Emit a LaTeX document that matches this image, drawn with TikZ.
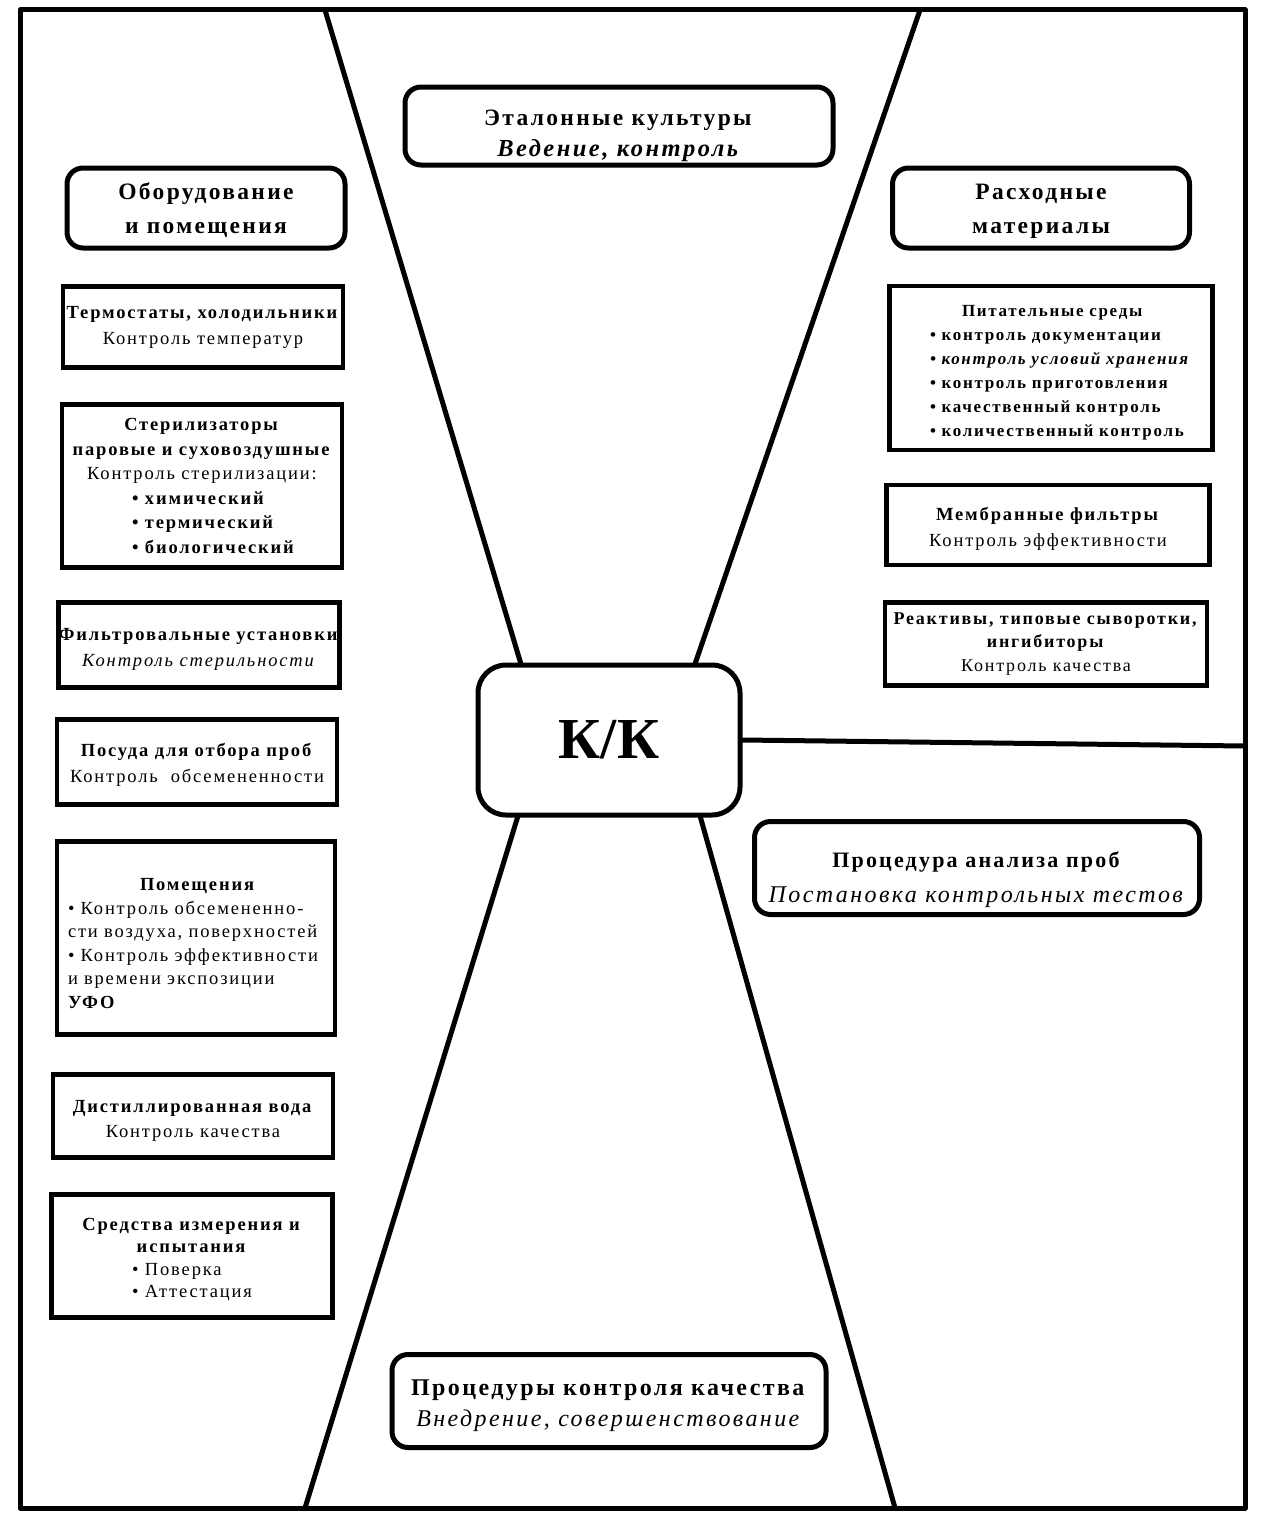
\documentclass[tikz,border=0pt]{standalone}
\usepackage{fontspec}
\setmainfont{Liberation Serif}[LetterSpace=10]
\usetikzlibrary{calc}
\tikzset{
	frameline/.style={line width=5pt, line join=round},
	spoke/.style={line width=5pt, line cap=round},
	headbox/.style={draw, line width=5pt, rounded corners=16pt, align=center, inner sep=0pt, fill=white,
		font=\fontsize{23.5}{31}\selectfont},
	itembox/.style={draw, line width=4.5pt, align=center, inner sep=0pt, fill=white,
		font=\fontsize{18.5}{24.5}\selectfont},
}
\newcommand{\bul}{\textbullet\ }
\newcommand{\lefty}[2]{\makebox[#1][l]{#2}}
\begin{document}
\begin{tikzpicture}[x=1pt, y=-1pt]
	\useasboundingbox (0,0) rectangle (1263,1520);

	% centre
	\node[headbox, minimum width=262pt, minimum height=150pt, rounded corners=28pt,
		font=\fontsize{58}{60}\selectfont\bfseries\addfontfeature{LetterSpace=0}] (kk) at (609,740) {К/К};

	% frame points
	\coordinate (ftl) at (325,10);
	\coordinate (ftr) at (920,10);
	\coordinate (fbl) at (305,1508);
	\coordinate (fbr) at (895,1508);
	\coordinate (fr) at (1245,746);

	\draw[spoke] (ftl) -- ([xshift=45pt]kk.north west);
	\draw[spoke] (ftr) -- ([xshift=-47pt]kk.north east);
	\draw[spoke] (fbl) -- ([xshift=42pt]kk.south west);
	\draw[spoke] (fbr) -- ([xshift=-42pt]kk.south east);
	\draw[spoke] (kk.east) -- (fr);
	\draw[frameline] (20,10) rectangle (1245,1508);

	% sectors
	\node[headbox, minimum width=428pt, minimum height=78pt] (etalon) at (619,126)
		{\rule{0pt}{36pt}\textbf{Эталонные культуры}\\{\fontsize{24.5}{31}\selectfont\textit{\textbf{Ведение, контроль}}}};
	\node[headbox, minimum width=278pt, minimum height=80pt, font=\fontsize{23.5}{34}\selectfont\bfseries] (equip) at (206,208)
		{\rule{0pt}{22pt}Оборудование\\и помещения};
	\node[headbox, minimum width=297pt, minimum height=80pt, font=\fontsize{23.5}{34}\selectfont\bfseries] (consum) at (1041,208)
		{\rule{0pt}{22pt}Расходные\\материалы};
	\node[headbox, minimum width=445pt, minimum height=93pt, font=\fontsize{22}{35}\selectfont] (proc) at (977,868)
		{\rule{0pt}{40pt}\textbf{Процедура анализа проб}\\{\fontsize{24}{35}\selectfont\textit{Постановка контрольных тестов}}};
	\node[headbox, minimum width=434pt, minimum height=93pt, font=\fontsize{24}{31}\selectfont] (qual) at (609,1401)
		{\rule{0pt}{26pt}\textbf{Процедуры контроля качества}\\\textit{Внедрение, совершенствование}};

	% equipment column
	\node[itembox, minimum width=280pt, minimum height=81pt, font=\fontsize{18.5}{26}\selectfont] (therm) at (203,327)
		{\textbf{Термостаты, холодильники}\\Контроль температур};
	\node[itembox, minimum width=280pt, minimum height=163pt] (steril) at (202,486)
		{\textbf{Стерилизаторы}\\\textbf{паровые и суховоздушные}\\Контроль стерилизации:\\
		 \lefty{140pt}{\textbf{\bul химический}}\\\lefty{140pt}{\textbf{\bul термический}}\\\lefty{140pt}{\textbf{\bul биологический}}};
	\node[itembox, minimum width=278pt, minimum height=85pt, font=\fontsize{18.5}{26}\selectfont] (filt) at (199,645)
		{\rule{0pt}{20pt}\textbf{Фильтровальные установки}\\\textit{Контроль стерильности}};
	\node[itembox, minimum width=280pt, minimum height=85pt, font=\fontsize{18.5}{26}\selectfont] (dish) at (197,762)
		{\rule{0pt}{19pt}\textbf{Посуда для отбора проб}\\Контроль\ \ обсемененности};
	\node[itembox, minimum width=278pt, minimum height=193pt, text width=256pt, align=left, font=\fontsize{18.5}{23.5}\selectfont] (room) at (196,938)
		{\rule{0pt}{23pt}\hspace*{72pt}\textbf{Помещения}\\
		 \bul Контроль обсемененно-\\
		 сти воздуха, поверхностей\\
		 \bul Контроль эффективности\\
		 и времени экспозиции\\
		 \textbf{УФО}};
	\node[itembox, minimum width=280pt, minimum height=83pt] (water) at (193,1116)
		{\rule{0pt}{22pt}\textbf{Дистиллированная вода}\\Контроль качества};
	\node[itembox, minimum width=281pt, minimum height=123pt, font=\fontsize{18.5}{22.5}\selectfont] (meas) at (192,1256)
		{\rule{0pt}{20pt}\textbf{Средства измерения и}\\\textbf{испытания}\\\lefty{120pt}{\bul Поверка}\\\lefty{120pt}{\bul Аттестация}};

	% consumables column
	\node[itembox, minimum width=323pt, minimum height=164pt, text width=318pt, align=left, font=\fontsize{17}{24}\selectfont] (media) at (1051,368)
		{\bfseries\rule{0pt}{20pt}\hspace*{70pt}Питательные среды\\
		 \hspace*{38pt}\bul контроль документации\\
		 \hspace*{38pt}\textit{\bul контроль условий хранения}\\
		 \hspace*{38pt}\bul контроль приготовления\\
		 \hspace*{38pt}\bul качественный контроль\\
		 \hspace*{38pt}\bul количественный контроль};
	\node[itembox, minimum width=323pt, minimum height=80pt, font=\fontsize{18.5}{26}\selectfont] (membr) at (1048,525)
		{\rule{0pt}{20pt}\textbf{Мембранные фильтры}\\Контроль эффективности};
	\node[itembox, minimum width=322pt, minimum height=83pt, font=\fontsize{18}{23.5}\selectfont] (react) at (1046,644)
		{\textbf{Реактивы, типовые сыворотки,}\\\textbf{ингибиторы}\\Контроль качества};
\end{tikzpicture}
\end{document}
